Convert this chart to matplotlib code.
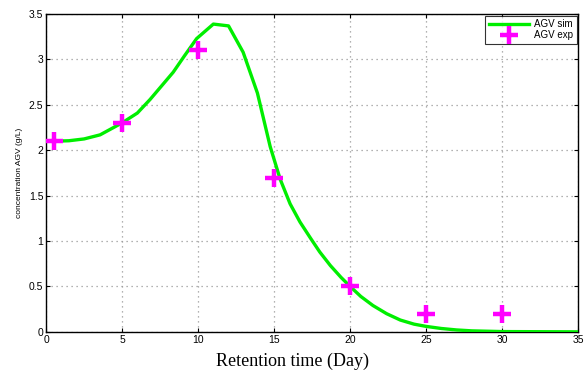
import matplotlib.pyplot as plt

# simulated curve
t_sim = [0.5, 1.5, 2.5, 3.55, 4.98, 6.0, 6.84, 7.6, 8.36, 9.1, 9.9, 11.0, 12.0, 12.96,
         13.9, 14.74, 15.4, 16.05, 16.7, 17.4, 18.0, 18.7, 19.4, 20.0, 20.7, 21.5,
         22.4, 23.3, 24.2, 25.0, 26.0, 27.0, 28.0, 30.0, 35.0]
agv_sim = [2.1, 2.105, 2.125, 2.17, 2.30, 2.41, 2.56, 2.71, 2.86, 3.04, 3.23, 3.39, 3.37, 3.08,
           2.63, 2.04, 1.68, 1.41, 1.21, 1.03, 0.88, 0.73, 0.6, 0.5, 0.39, 0.29,
           0.2, 0.13, 0.085, 0.06, 0.037, 0.021, 0.011, 0.003, 0.0]

# experimental points
t_exp = [0.5, 5, 10, 15, 20, 25, 30]
agv_exp = [2.1, 2.3, 3.1, 1.7, 0.5, 0.2, 0.2]

plt.rcParams['font.family'] = ['Liberation Sans', 'DejaVu Sans']

fig = plt.figure(figsize=(5.84, 3.81), dpi=100)
ax = fig.add_axes([0.079, 0.129, 0.911, 0.834])

ax.plot(t_sim, agv_sim, color='#00ee00', lw=2.4, label='AGV sim', zorder=3)
ax.plot(t_exp, agv_exp, ls='none', marker='+', color='#ff00ff', ms=13, mew=3.2,
        label='AGV exp', zorder=4)

ax.set_xlim(0, 35)
ax.set_ylim(0, 3.5)
ax.set_xticks(range(0, 36, 5))
ax.set_yticks([0, 0.5, 1, 1.5, 2, 2.5, 3, 3.5])
ax.set_yticklabels(['0', '0.5', '1', '1.5', '2', '2.5', '3', '3.5'])
ax.tick_params(direction='in', top=True, right=True, labelsize=7.5, length=3, pad=2)
ax.grid(True, color='#999999', lw=0.9, ls=(0, (1, 3)))
for s in ax.spines.values():
    s.set_linewidth(1.0)

ax.set_ylabel('concentration AGV (g/L)', fontsize=6, labelpad=4)

fig.text(0.5, 0.028, 'Retention time (Day)', ha='center', va='bottom',
         family='Liberation Serif', fontsize=13)

leg = ax.legend(loc='upper right', fontsize=7, frameon=True, fancybox=False,
                borderaxespad=0.15, handlelength=4.2, borderpad=0.35, labelspacing=0.15,
                handletextpad=0.5)
leg.get_frame().set_edgecolor('black')
leg.get_frame().set_linewidth(0.8)

fig.savefig('out.png', dpi=100)
